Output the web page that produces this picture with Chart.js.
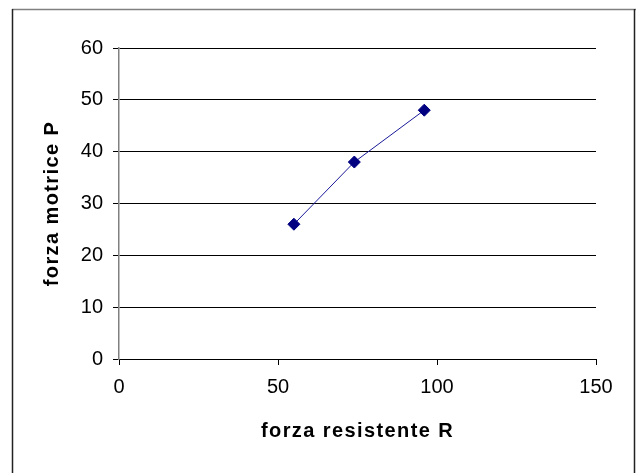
<!DOCTYPE html>
<html>
<head>
<meta charset="utf-8">
<script src="https://cdn.jsdelivr.net/npm/chart.js@4"></script>
<style>
  html, body { margin: 0; padding: 0; background: #fff; }
  #wrap { width: 636px; height: 473px; position: relative; }
</style>
</head>
<body>
<div id="wrap"><canvas id="chart"></canvas></div>
<script>
// values
const forzaResistente = [55, 74, 96];
const forzaMotrice = [26, 38, 48];
const xTitle = 'forza resistente R';
const yTitle = 'forza motrice P';

const points = forzaResistente.map((r, i) => ({ x: r, y: forzaMotrice[i] }));

// outer frame like the spreadsheet chart box, plus wide spacing for the axis titles
const framePlugin = {
    id: 'frame',
    beforeDraw(chart) {
        const ctx = chart.ctx;
        ctx.save();
        ctx.fillStyle = '#fff';
        ctx.fillRect(0, 0, chart.width, chart.height);
        ctx.lineWidth = 1.5;
        ctx.strokeStyle = '#808080';
        ctx.beginPath();
        ctx.moveTo(12, 9.5);
        ctx.lineTo(636, 9.5);
        ctx.stroke();
        ctx.strokeStyle = '#222';
        ctx.beginPath();
        ctx.moveTo(12.5, 9);
        ctx.lineTo(12.5, 473);
        ctx.moveTo(634.5, 9);
        ctx.lineTo(634.5, 473);
        ctx.stroke();
        ctx.restore();
        // titles are drawn with the grid layer, tick labels later (z: 1)
        ctx.letterSpacing = '1.4px';
    },
    beforeDatasetsDraw(chart) {
        chart.ctx.letterSpacing = '0px';
    },
    afterDraw(chart) {
        chart.ctx.letterSpacing = '0px';
    }
};

const tickFont = { family: 'Liberation Sans, Arial, sans-serif', size: 20 };
const titleFont = { family: 'Liberation Sans, Arial, sans-serif', size: 20, weight: 'bold' };

new Chart(document.getElementById('chart'), {
    type: 'scatter',
    data: {
        datasets: [{
            data: points,
            showLine: true,
            borderColor: '#1a1a9a',
            borderWidth: 1,
            backgroundColor: '#000080',
            pointStyle: 'rectRot',
            pointRadius: 6,
            pointBorderColor: '#000080',
            pointBorderWidth: 1
        }]
    },
    options: {
        responsive: true,
        maintainAspectRatio: false,
        animation: false,
        plugins: {
            legend: { display: false },
            tooltip: { enabled: false }
        },
        layout: { padding: { left: 0, right: 40, top: 48, bottom: 0 } },
        scales: {
            x: {
                type: 'linear',
                min: 0,
                max: 150,
                ticks: { stepSize: 50, color: '#000', font: tickFont, padding: 10, z: 1 },
                grid: { drawOnChartArea: false, drawTicks: true, tickLength: 6, color: '#000' },
                border: { color: '#000', width: 1 },
                title: { display: true, text: xTitle, color: '#000', font: titleFont, padding: { top: 0, bottom: 30 } },
                afterFit(scale) { scale.height = 114; }
            },
            y: {
                min: 0,
                max: 60,
                ticks: { stepSize: 10, color: '#000', font: tickFont, padding: 10, z: 1 },
                grid: { color: '#000', lineWidth: 1, drawTicks: true, tickLength: 6 },
                border: { color: '#808080', width: 1.5 },
                title: { display: true, text: yTitle, color: '#000', font: titleFont, padding: { top: 40, bottom: 0 } },
                afterFit(scale) { scale.width = 119; }
            }
        }
    },
    plugins: [framePlugin]
});
</script>
</body>
</html>
